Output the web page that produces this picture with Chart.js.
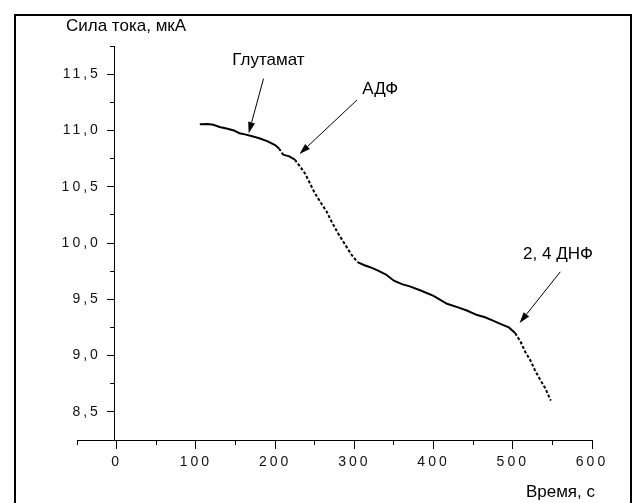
<!DOCTYPE html>
<html>
<head>
<meta charset="utf-8">
<script src="https://cdn.jsdelivr.net/npm/chart.js@4.4.1/dist/chart.umd.min.js"></script>
<style>
  html, body { margin: 0; padding: 0; background: #fff; }
  #wrap { width: 640px; height: 503px; position: relative; }
</style>
</head>
<body>
<div id="wrap"><canvas id="currentChart"></canvas></div>
<script>
// measured current vs time
const times = [105, 115, 122, 130, 140, 148, 155, 162, 170, 180, 190, 200, 205, 210, 218, 225,
    232, 238, 244, 250, 258, 265, 272, 280, 288, 296, 304, 312, 320, 330, 340, 350,
    360, 370, 383, 400, 417, 430, 442, 455, 465, 475, 485, 495, 503, 510, 516, 522,
    528, 535, 541, 548];
const currents = [11.055, 11.057, 11.05, 11.03, 11.015, 11.0, 10.975, 10.965, 10.95, 10.93, 10.905, 10.87, 10.84, 10.785, 10.77, 10.74,
    10.675, 10.615, 10.53, 10.445, 10.355, 10.28, 10.18, 10.08, 9.99, 9.90, 9.83, 9.805, 9.785, 9.755, 9.72, 9.665,
    9.635, 9.615, 9.58, 9.53, 9.46, 9.43, 9.40, 9.36, 9.34, 9.31, 9.28, 9.25, 9.20, 9.12, 9.03, 8.96,
    8.87, 8.78, 8.71, 8.60];

// axes
const xMajorTicks = [0, 100, 200, 300, 400, 500, 600];
const xMinorTicks = [-50, 50, 150, 250, 350, 450, 550];
const yMajorTicks = [8.5, 9.0, 9.5, 10.0, 10.5, 11.0, 11.5];
const yMinorTicks = [8.25, 8.75, 9.25, 9.75, 10.25, 10.75, 11.25, 11.75];
const xRange = [-50, 600];
const yRange = [8.25, 11.75];
const yAxisAt = -2.5;   // the y axis crosses the x axis a bit left of zero

// annotations (text position and arrow from -> to, in data units)
const noteLabels = ['Глутамат', 'АДФ', '2, 4 ДНФ'];
const noteTextX = [146, 310, 513];
const noteTextY = [11.58, 11.32, 9.857];
const arrowFromX = [185.4, 303.3, 560];
const arrowFromY = [11.46, 11.27, 9.744];
const arrowToX = [166.7, 230.8, 508.6];
const arrowToY = [10.976, 10.79, 9.29];

const FONT = "'Liberation Sans', Arial, sans-serif";

function setTicks(list) {
    return function(scale) {
        scale.ticks = list.map(v => ({ value: v }));
    };
}

// frame, axis titles, arrows and their labels
const decorations = {
    id: 'decorations',
    beforeDraw: function(chart) {
        const ctx = chart.ctx;
        ctx.save();
        ctx.strokeStyle = '#000';
        ctx.lineWidth = 2;
        ctx.strokeRect(15, 15, 616, 500);
        ctx.restore();
        ctx.letterSpacing = '3px';  // the tick numbers are spaced out
    },
    afterDraw: function(chart) {
        const ctx = chart.ctx,
            xs = chart.scales.x,
            ys = chart.scales.y;
        ctx.save();
        ctx.letterSpacing = '0px';
        ctx.fillStyle = '#000';
        ctx.strokeStyle = '#000';
        ctx.font = '17px ' + FONT;
        ctx.textBaseline = 'alphabetic';
        ctx.textAlign = 'left';
        ctx.fillText('Сила тока, мкА', 66, 31);
        ctx.textAlign = 'right';
        ctx.fillText('Время, с', 595, 497);

        ctx.textAlign = 'left';
        for (let i = 0; i < noteLabels.length; i++) {
            ctx.fillText(noteLabels[i], xs.getPixelForValue(noteTextX[i]), ys.getPixelForValue(noteTextY[i]));

            const x1 = xs.getPixelForValue(arrowFromX[i]), y1 = ys.getPixelForValue(arrowFromY[i]);
            const x2 = xs.getPixelForValue(arrowToX[i]), y2 = ys.getPixelForValue(arrowToY[i]);
            const a = Math.atan2(y2 - y1, x2 - x1);
            const head = 11, half = 3.5;
            ctx.lineWidth = 1;
            ctx.beginPath();
            ctx.moveTo(x1, y1);
            ctx.lineTo(x2 - Math.cos(a) * head, y2 - Math.sin(a) * head);
            ctx.stroke();
            ctx.beginPath();
            ctx.moveTo(x2, y2);
            ctx.lineTo(x2 - Math.cos(a) * head - Math.sin(a) * half, y2 - Math.sin(a) * head + Math.cos(a) * half);
            ctx.lineTo(x2 - Math.cos(a) * head + Math.sin(a) * half, y2 - Math.sin(a) * head - Math.cos(a) * half);
            ctx.closePath();
            ctx.fill();
        }
        ctx.restore();
    }
};

const tickFont = { family: FONT, size: 14 };

new Chart(document.getElementById('currentChart'), {
    type: 'line',
    plugins: [decorations],
    data: {
        labels: times,
        datasets: [{
            data: times.map((t, i) => ({ x: t, y: currents[i] })),
            borderColor: '#000',
            borderWidth: 2,
            pointRadius: 0,
            tension: 0,
            // the steep parts of the trace are dotted
            segment: {
                borderDash: function(ctx) {
                    const dx = ctx.p1.parsed.x - ctx.p0.parsed.x;
                    const dy = ctx.p1.parsed.y - ctx.p0.parsed.y;
                    return Math.abs(dy / dx) > 0.007 ? [3, 2] : undefined;
                }
            }
        }]
    },
    options: {
        responsive: true,
        maintainAspectRatio: false,
        animation: false,
        layout: { padding: { left: 77, right: 48, top: 46, bottom: 63 } },
        plugins: {
            legend: { display: false },
            tooltip: { enabled: false }
        },
        scales: {
            x: {
                type: 'linear',
                position: { y: yRange[0] },
                min: xRange[0],
                max: xRange[1],
                afterBuildTicks: setTicks(xMajorTicks),
                grid: { drawOnChartArea: false, drawTicks: true, tickLength: 8, color: '#000' },
                border: { display: true, color: '#000', width: 1 },
                ticks: { font: tickFont, color: '#111', padding: 6, maxRotation: 0 }
            },
            xMinor: {
                axis: 'x',
                type: 'linear',
                position: { y: yRange[0] },
                min: xRange[0],
                max: xRange[1],
                afterBuildTicks: setTicks(xMinorTicks),
                grid: { drawOnChartArea: false, drawTicks: true, tickLength: 5, color: '#000' },
                border: { display: false },
                ticks: { display: false }
            },
            y: {
                type: 'linear',
                position: { x: yAxisAt },
                min: yRange[0],
                max: yRange[1],
                afterBuildTicks: setTicks(yMajorTicks),
                grid: { drawOnChartArea: false, drawTicks: true, tickLength: 7, color: '#000' },
                border: { display: true, color: '#000', width: 1 },
                ticks: {
                    font: tickFont,
                    color: '#111',
                    // labels sit right at the axis here, the trailing spaces keep them clear of the ticks
                    callback: function(v) { return v.toFixed(1).replace('.', ',') + '  '; }
                }
            },
            yMinor: {
                axis: 'y',
                type: 'linear',
                position: { x: yAxisAt },
                min: yRange[0],
                max: yRange[1],
                afterBuildTicks: setTicks(yMinorTicks),
                grid: { drawOnChartArea: false, drawTicks: true, tickLength: 5, color: '#000' },
                border: { display: false },
                ticks: { display: false }
            }
        }
    }
});
</script>
</body>
</html>
